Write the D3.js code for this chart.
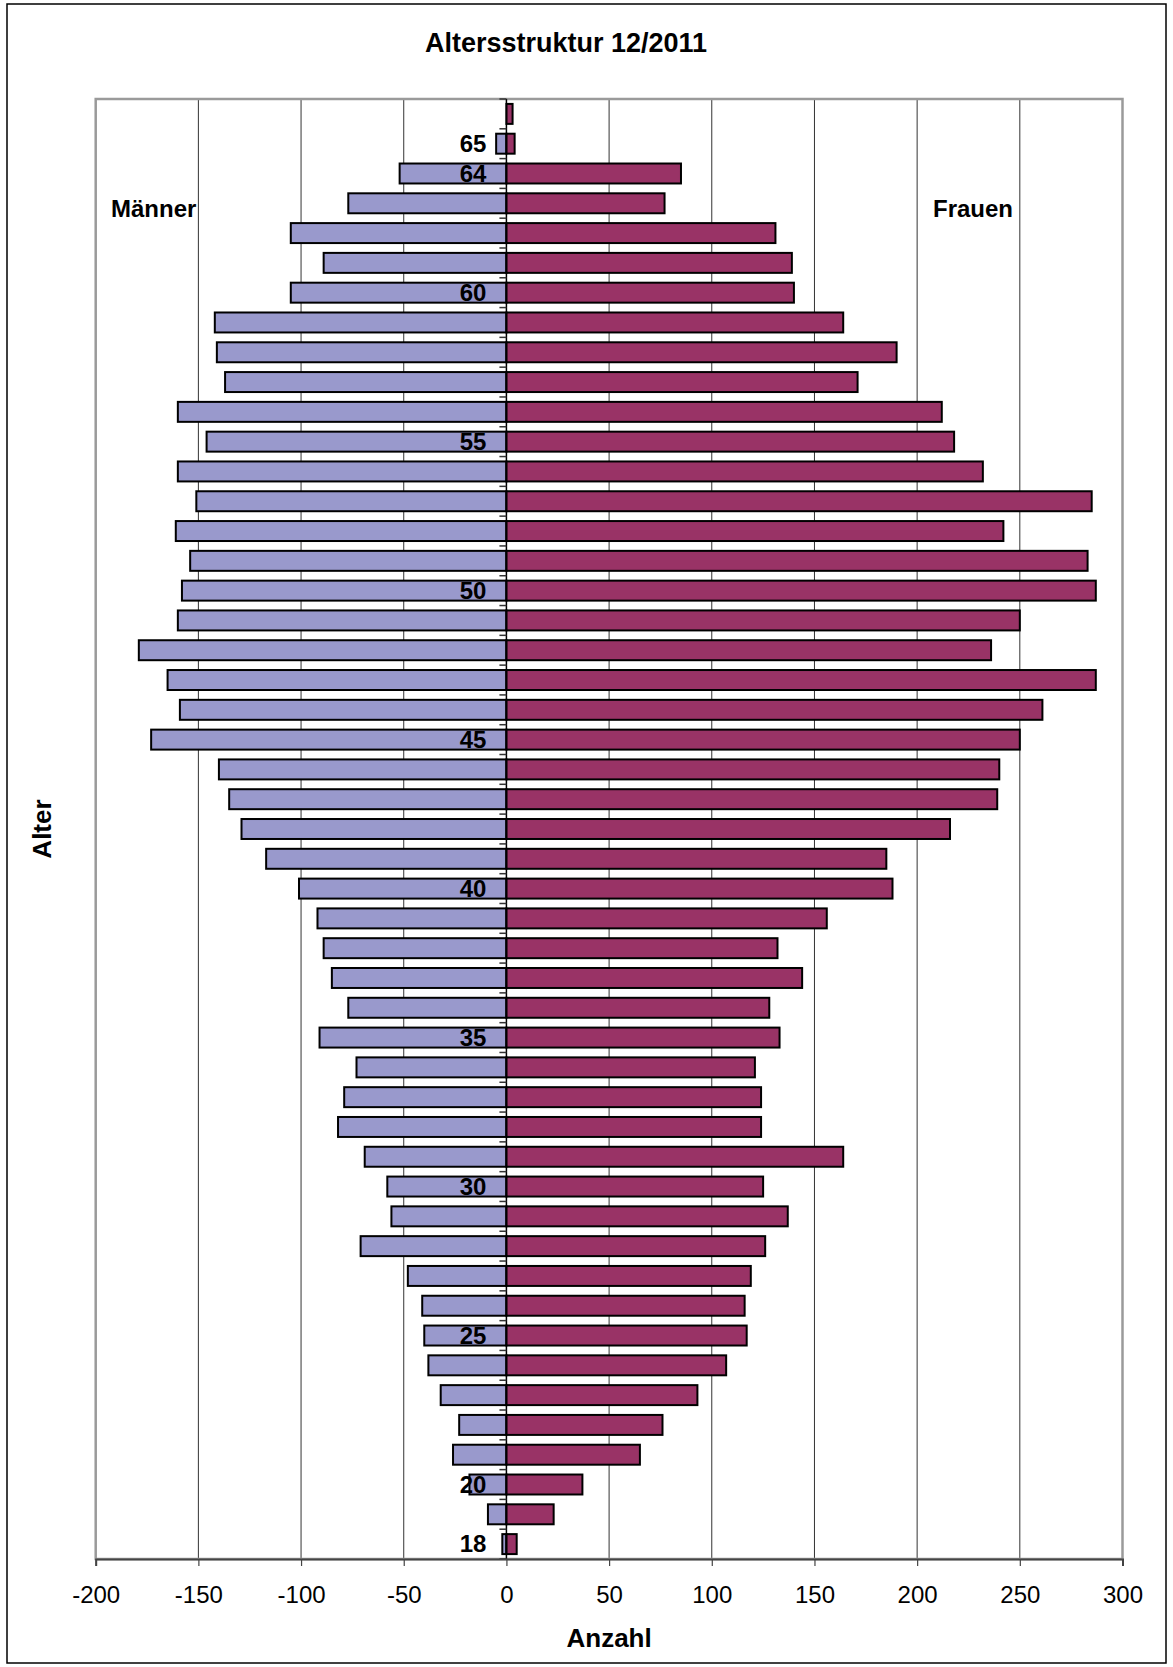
<!DOCTYPE html>
<html>
<head>
<meta charset="utf-8">
<script src="https://cdn.jsdelivr.net/npm/d3@7"></script>
<style>
  html, body { margin: 0; padding: 0; background: #fff; }
  svg { display: block; font-family: "Liberation Sans", Arial, sans-serif; }
</style>
</head>
<body>
<svg id="chart" width="1173" height="1667"></svg>
<script>
// Age categories (top to bottom)
const ages = [66,65,64,63,62,61,60,59,58,57,56,55,54,53,52,51,50,49,48,47,46,45,44,43,42,41,40,39,38,37,36,35,34,33,32,31,30,29,28,27,26,25,24,23,22,21,20,19,18];
// Männer (plotted to the left, negative)
const maenner = [0,-5,-52,-77,-105,-89,-105,-142,-141,-137,-160,-146,-160,-151,-161,-154,-158,-160,-179,-165,-159,-173,-140,-135,-129,-117,-101,-92,-89,-85,-77,-91,-73,-79,-82,-69,-58,-56,-71,-48,-41,-40,-38,-32,-23,-26,-18,-9,-2];
// Frauen
const frauen = [3,4,85,77,131,139,140,164,190,171,212,218,232,285,242,283,287,250,236,287,261,250,240,239,216,185,188,156,132,144,128,133,121,124,124,164,125,137,126,119,116,117,107,93,76,65,37,23,5];
// Age labels shown on the category axis
const ageLabels = [65,64,60,55,50,45,40,35,30,25,20,18];
// x-axis ticks
const xTicks = [-200,-150,-100,-50,0,50,100,150,200,250,300];

const svg = d3.select("#chart");
const W = 1173, H = 1667;
const plot = {left: 95.7, right: 1122.5, top: 99, bottom: 1559};

// outer frame
svg.append("rect").attr("x", 7).attr("y", 4).attr("width", W - 14).attr("height", H - 8)
  .attr("fill", "#fff").attr("stroke", "#000").attr("stroke-width", 1.5);

const x = d3.scaleLinear().domain([-200, 300]).range([plot.left, plot.right]);
const y = d3.scaleBand().domain(ages).range([plot.top, plot.bottom]).paddingInner(0.33).paddingOuter(0.165);

// gridlines
svg.append("g").selectAll("line").data(xTicks.filter(t => t !== -200 && t !== 300 && t !== 0)).join("line")
  .attr("x1", d => x(d)).attr("x2", d => x(d))
  .attr("y1", plot.top).attr("y2", plot.bottom)
  .attr("stroke", "#333").attr("stroke-width", 1);

// plot border
svg.append("rect").attr("x", plot.left).attr("y", plot.top)
  .attr("width", plot.right - plot.left).attr("height", plot.bottom - plot.top)
  .attr("fill", "none").attr("stroke", "#9a9a9a").attr("stroke-width", 2.5);

// bars
const data = ages.map((a, i) => ({age: a, m: maenner[i], f: frauen[i]}));
const bars = svg.append("g");
bars.selectAll("rect.m").data(data.filter(d => d.m !== 0)).join("rect")
  .attr("class", "m")
  .attr("x", d => x(d.m)).attr("width", d => x(0) - x(d.m))
  .attr("y", d => y(d.age)).attr("height", y.bandwidth())
  .attr("fill", "#9999cc").attr("stroke", "#000").attr("stroke-width", 2);
bars.selectAll("rect.f").data(data.filter(d => d.f !== 0)).join("rect")
  .attr("class", "f")
  .attr("x", x(0)).attr("width", d => x(d.f) - x(0))
  .attr("y", d => y(d.age)).attr("height", y.bandwidth())
  .attr("fill", "#993366").attr("stroke", "#000").attr("stroke-width", 2);

// vertical category axis at 0
svg.append("line").attr("x1", x(0)).attr("x2", x(0)).attr("y1", plot.top).attr("y2", plot.bottom)
  .attr("stroke", "#000").attr("stroke-width", 1.5);
const step = y.step();
const boundaries = d3.range(ages.length + 1).map(i => plot.top + i * step);
svg.append("g").selectAll("line").data(boundaries).join("line")
  .attr("x1", x(0) - 7).attr("x2", x(0)).attr("y1", d => d).attr("y2", d => d)
  .attr("stroke", "#333").attr("stroke-width", 1.5);

// age labels
svg.append("g").selectAll("text").data(ageLabels).join("text")
  .attr("x", x(0) - 20).attr("y", d => y(d) + y.bandwidth() / 2)
  .attr("dy", "0.34em").attr("text-anchor", "end")
  .attr("font-size", 24).attr("font-weight", "bold").attr("fill", "#000")
  .text(d => d);

// bottom axis
const xAxis = d3.axisBottom(x).tickValues(xTicks).tickSize(7).tickPadding(20).tickFormat(d => String(d));
const gx = svg.append("g").attr("transform", `translate(0,${plot.bottom})`).call(xAxis);
gx.select(".domain").attr("stroke", "#444").attr("stroke-width", 2);
gx.selectAll(".tick line").attr("stroke", "#444").attr("stroke-width", 1.2);
gx.selectAll(".tick text").attr("font-size", 24).attr("fill", "#000")
  .attr("font-family", "Liberation Sans, Arial, sans-serif");

// titles
svg.append("text").attr("x", 566).attr("y", 52).attr("text-anchor", "middle")
  .attr("font-size", 27).attr("font-weight", "bold").text("Altersstruktur 12/2011");
svg.append("text").attr("x", 111).attr("y", 217).attr("font-size", 24).attr("font-weight", "bold").text("Männer");
svg.append("text").attr("x", 933).attr("y", 217).attr("font-size", 24).attr("font-weight", "bold").text("Frauen");
svg.append("text").attr("x", (plot.left + plot.right) / 2).attr("y", 1647).attr("text-anchor", "middle")
  .attr("font-size", 26).attr("font-weight", "bold").text("Anzahl");
svg.append("text").attr("transform", `translate(51,${(plot.top + plot.bottom) / 2}) rotate(-90)`)
  .attr("text-anchor", "middle").attr("font-size", 26).attr("font-weight", "bold").text("Alter");
</script>
</body>
</html>
